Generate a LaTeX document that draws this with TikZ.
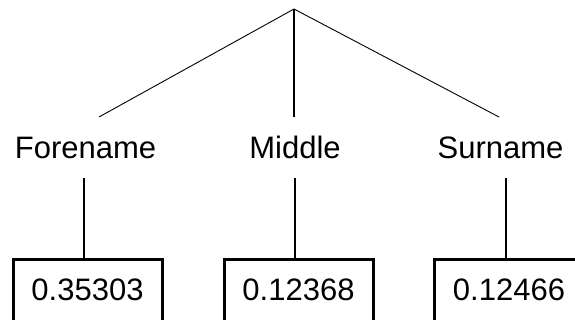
\documentclass[tikz,border=0pt]{standalone}
\usepackage{fontspec}
\setmainfont{Liberation Sans}
\begin{document}
\begin{tikzpicture}[x=1pt,y=1pt,
  lbl/.style={inner xsep=0pt, inner ysep=19pt, text depth=0pt, anchor=base, font=\fontsize{31}{36}\selectfont},
  valbox/.style={draw, line width=3pt, minimum width=149pt, inner xsep=0pt, inner ysep=18pt,
    text height=23pt, text depth=30pt, anchor=north, font=\fontsize{31}{36}\selectfont},
  thin/.style={line width=0.9pt},
  stem/.style={line width=2pt}]
\useasboundingbox (0,0) rectangle (575,-320);
\clip (0,0) rectangle (575,-320);
\coordinate (apex) at (294,-9);
\coordinate (e1) at (99,-117);
\coordinate (e2) at (294,-117);
\coordinate (e3) at (499,-117);
\draw[thin] (apex) -- (e1);
\draw[stem] (apex) -- (e2);
\draw[thin] (apex) -- (e3);
\node[lbl] (fl) at (85.5,-159) {Forename};
\node[lbl] (ml) at (295,-159) {Middle};
\node[lbl] (sl) at (500.5,-159) {Surname};
\node[valbox] (fb) at (87.5,-258) {0.35303};
\node[valbox] (mb) at (298.5,-258) {0.12368};
\node[valbox] (sb) at (509,-258) {0.12466};
\draw[stem] ([xshift=-3.5pt]fb.north) -- ([xshift=-3.5pt]fb.north |- fl.south);
\draw[stem] ([xshift=-4pt]mb.north) -- ([xshift=-4pt]mb.north |- ml.south);
\draw[stem] ([xshift=-3pt]sb.north) -- ([xshift=-3pt]sb.north |- sl.south);
\end{tikzpicture}
\end{document}
